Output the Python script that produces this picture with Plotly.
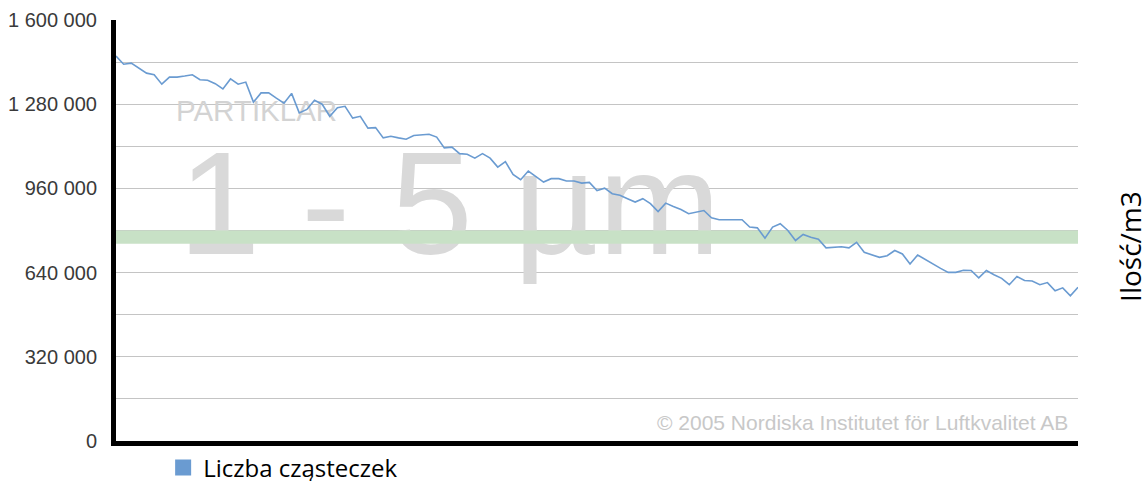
import plotly.graph_objects as go

# ---- data ----
particle_counts = [
    1463000, 1432000, 1436000, 1417000, 1398000, 1392000, 1356000, 1383000, 1383000, 1387000,
    1392000, 1373000, 1371000, 1358000, 1338000, 1376000, 1356000, 1364000, 1288000, 1323000,
    1323000, 1303000, 1284000, 1321000, 1247000, 1260000, 1295000, 1280000, 1234000, 1267000,
    1272000, 1227000, 1234000, 1189000, 1191000, 1152000, 1158000, 1152000, 1147000, 1161000,
    1164000, 1166000, 1155000, 1114000, 1117000, 1092000, 1090000, 1075000, 1092000, 1075000,
    1041000, 1062000, 1013000, 993000, 1026000, 1006000, 984000, 997000, 997000, 988000,
    988000, 980000, 983000, 952000, 961000, 940000, 934000, 921000, 908000, 921000,
    902000, 872000, 904000, 891000, 880000, 864000, 870000, 876000, 848000, 841000,
    841000, 841000, 841000, 813000, 810000, 771000, 813000, 826000, 800000, 762000,
    785000, 774000, 767000, 734000, 735000, 738000, 734000, 755000, 717000, 707000,
    698000, 704000, 724000, 711000, 673000, 707000, 690000, 670000, 656000, 641000,
    641000, 649000, 648000, 620000, 648000, 632000, 618000, 594000, 625000, 610000,
    608000, 594000, 602000, 571000, 582000, 552000, 584000,
]
series_name = "Liczba cząsteczek"
band_low = 750000
band_high = 800000
y_max = 1600000
grid_step = 160000
y_tick_values = [0, 320000, 640000, 960000, 1280000, 1600000]
y_tick_labels = ["0", "320 000", "640 000", "960 000", "1 280 000", "1 600 000"]
y_axis_title = "Ilość/m3"
watermark_small = "PARTIKLAR"
watermark_big = "1 - 5 µm"
copyright_text = "© 2005 Nordiska Institutet för Luftkvalitet AB"

# ---- derived ----
n = len(particle_counts)
xs = list(range(n))
x_last = n - 1

grid_vals = list(range(0, y_max + grid_step, grid_step))
grid_text = [y_tick_labels[y_tick_values.index(v)] if v in y_tick_values else "" for v in grid_vals]

LINE_COLOR = "#6a9bd1"
BAND_COLOR = "#c8e1c6"

fig = go.Figure()

# watermark texts (as traces so they sit beneath the band and the line)
fig.add_trace(go.Scatter(
    x=[8.2], y=[852000], mode="text", text=[watermark_big],
    textposition="middle right",
    textfont=dict(family="Liberation Sans, Arial", size=147, color="#d9d9d9"),
    showlegend=False, hoverinfo="skip", cliponaxis=False,
))
fig.add_trace(go.Scatter(
    x=[7.85], y=[1245000], mode="text", text=[watermark_small],
    textposition="middle right",
    textfont=dict(family="Liberation Sans, Arial", size=29.5, color="#d3d3d3"),
    showlegend=False, hoverinfo="skip", cliponaxis=False,
))

# green band
fig.add_trace(go.Scatter(
    x=[0, x_last], y=[band_low, band_low], mode="lines",
    line=dict(width=0, color="rgba(0,0,0,0)"), showlegend=False, hoverinfo="skip",
))
fig.add_trace(go.Scatter(
    x=[0, x_last], y=[band_high, band_high], mode="lines", fill="tonexty",
    fillcolor=BAND_COLOR, line=dict(width=0, color="rgba(0,0,0,0)"),
    showlegend=False, hoverinfo="skip",
))

# data line
fig.add_trace(go.Scatter(
    x=xs, y=particle_counts, mode="lines",
    line=dict(color=LINE_COLOR, width=1.6),
    showlegend=False, name=series_name,
))

# legend entry (square swatch)
fig.add_trace(go.Scatter(
    x=[None], y=[None], mode="markers", name=series_name,
    marker=dict(symbol="square", size=16, color=LINE_COLOR),
))

fig.update_layout(
    width=1147, height=481,
    margin=dict(l=116, r=69, t=20, b=40, autoexpand=False),
    paper_bgcolor="white", plot_bgcolor="white",
    hovermode=False,
    showlegend=True,
    legend=dict(
        orientation="h", x=0.049, xanchor="left", y=-0.064, yanchor="middle",
        font=dict(family="Open Sans", size=24, color="#000000"),
        bgcolor="rgba(0,0,0,0)",
    ),
    xaxis=dict(
        range=[0, x_last], showgrid=False, zeroline=False,
        showticklabels=False, ticks="", automargin=False,
        showline=True, linecolor="#000000", linewidth=5,
    ),
    yaxis=dict(
        range=[0, y_max], tickvals=grid_vals, ticktext=grid_text,
        showgrid=True, gridcolor="#c4c4c4", gridwidth=1, automargin=False,
        zeroline=False, ticks="", ticklabelstandoff=10,
        showline=True, linecolor="#000000", linewidth=5,
        tickfont=dict(family="Liberation Sans, Arial", size=20, color="#3a3a3a"),
    ),
    annotations=[
        dict(text=copyright_text, xref="paper", yref="paper", x=0.9916, y=0.043,
             xanchor="right", yanchor="middle", showarrow=False,
             font=dict(family="Liberation Sans, Arial", size=21, color="#c8c8c8")),
        dict(text=y_axis_title, xref="paper", yref="paper", x=1.0545, y=0.462,
             xanchor="center", yanchor="middle", showarrow=False, textangle=-90,
             borderpad=0,
             font=dict(family="Open Sans", size=28, color="#000000")),
    ],
)

fig.write_html(
    "out.html",
    config={"displayModeBar": False},
    post_script="document.body.style.margin='0';document.body.style.overflow='hidden';",
)
